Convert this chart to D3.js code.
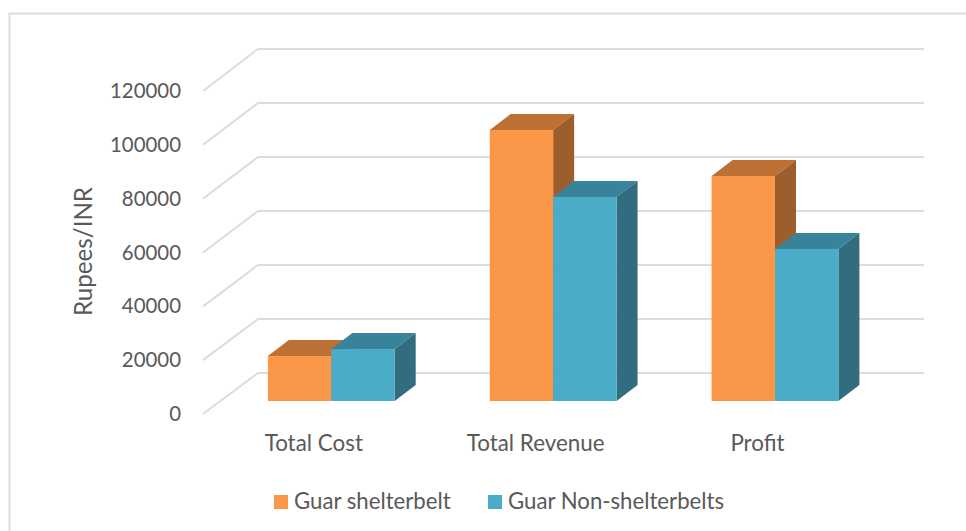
<!DOCTYPE html>
<html><head><meta charset="utf-8">
<script src="https://cdn.jsdelivr.net/npm/d3@7/dist/d3.min.js"></script>
<style>html,body{margin:0;padding:0;background:#fff}svg{display:block}text{font-family:Lato,"Open Sans",sans-serif;fill:#595959}</style>
</head><body><svg id="c" width="966" height="531"></svg>
<script>
const categories = ["Total Cost","Total Revenue","Profit"];
const seriesNames = ["Guar shelterbelt","Guar Non-shelterbelts"];
const shelterbelt = [16700,100700,83600];
const nonShelterbelt = [19300,75800,56500];
const tickValues = [0,20000,40000,60000,80000,100000,120000];
const faces = [
  {front:"#FA9748",top:"#BC7034",side:"#9C5E2C"},
  {front:"#4AACC7",top:"#388399",side:"#316D7E"}
];
const svg = d3.select("#c");
const back = d3.scaleLinear([0,120000],[373,49]);
const wallFront = d3.scaleLinear([0,120000],[414,91]);
const height = d3.scaleLinear([0,120000],[0,323]);
const cx = d3.scalePoint(categories,[331.3,775]);
const baseY = 401, barW = 63.4, dx = 21, dy = 16;

svg.append("path").attr("d","M9.5,531V13.5H966").attr("fill","none").attr("stroke","#dcdcdc").attr("stroke-width",2);

const grid = svg.append("g").attr("fill","none").attr("stroke","#dcdcdc").attr("stroke-width",2);
tickValues.forEach(v=>{
  grid.append("path").attr("d",d3.line()([[203,wallFront(v)],[258,back(v)],[924,back(v)]]));
});
svg.append("g").selectAll("text").data(tickValues).join("text")
  .attr("x",181).attr("y",v=>wallFront(v)+7).attr("text-anchor","end")
  .attr("font-size",20.4).text(v=>v);

function bar(g,x,w,v,c){
  const h = height(v), t = baseY-h;
  g.append("polygon").attr("fill",c.top).attr("points",[[x,t],[x+dx,t-dy],[x+w+dx,t-dy],[x+w,t]].join(" "));
  g.append("polygon").attr("fill",c.side).attr("points",[[x+w,t],[x+w+dx,t-dy],[x+w+dx,baseY-dy],[x+w,baseY]].join(" "));
  g.append("rect").attr("fill",c.front).attr("x",x).attr("y",t).attr("width",w).attr("height",h);
}
const bars = svg.append("g");
categories.forEach((cat,i)=>{
  const c0 = cx(cat);
  bar(bars,c0-barW,barW,shelterbelt[i],faces[0]);
  bar(bars,c0,barW,nonShelterbelt[i],faces[1]);
});
svg.append("g").selectAll("text").data(categories).join("text")
  .attr("x",d=>cx(d)-17.5).attr("y",451).attr("text-anchor","middle")
  .attr("font-size",22.4).text(d=>d);
svg.append("text").attr("transform","translate(92,251.5) rotate(-90)").attr("text-anchor","middle")
  .attr("font-size",24.2).text("Rupees/INR");
const legendX = [274,488];
seriesNames.forEach((s,i)=>{
  svg.append("rect").attr("x",legendX[i]).attr("y",495).attr("width",14).attr("height",14).attr("fill",faces[i].front);
  svg.append("text").attr("x",legendX[i]+20).attr("y",509).attr("font-size",22.2).text(s);
});
</script></body></html>
